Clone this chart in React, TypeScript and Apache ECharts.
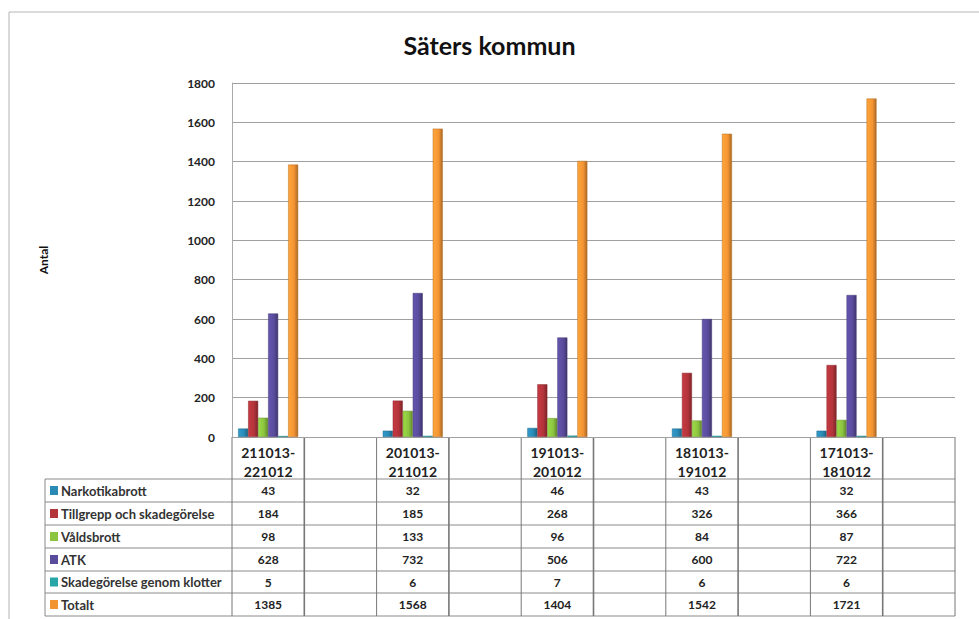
import React, { useEffect, useRef } from "react";
import * as echarts from "echarts";

// ---- data ----
const periods = ["211013-\n221012", "201013-\n211012", "191013-\n201012", "181013-\n191012", "171013-\n181012"];
const seriesNames = [
  "Narkotikabrott",
  "Tillgrepp och skadegörelse",
  "Våldsbrott",
  "ATK",
  "Skadegörelse genom klotter",
  "Totalt",
];
const narkotikabrott = [43, 32, 46, 43, 32];
const tillgrepp = [184, 185, 268, 326, 366];
const valdsbrott = [98, 133, 96, 84, 87];
const atk = [628, 732, 506, 600, 722];
const klotter = [5, 6, 7, 6, 6];
const totalt = [1385, 1568, 1404, 1542, 1721];
const yMin = 0;
const yMax = 1800;
const yStep = 200;

const seriesValues = [narkotikabrott, tillgrepp, valdsbrott, atk, klotter, totalt];
const colors = ["#2a8ab6", "#b3343b", "#8cc43f", "#5a4c9c", "#27a6a8", "#f39433"];

// ---- layout ----
const W = 979;
const H = 619;
const gridLeft = 232;
const gridRight = 24;
const gridTop = 83;
const gridBottomY = 437;
const rowLines = [479, 502, 525, 548, 571, 593, 616];
const legendLeft = 45;
const FONT = "Lato, 'Open Sans', sans-serif";

function shade(hex: string, f: number) {
  const n = parseInt(hex.slice(1), 16);
  const r = Math.round(((n >> 16) & 255) * f);
  const g = Math.round(((n >> 8) & 255) * f);
  const b = Math.round((n & 255) * f);
  return `rgb(${Math.min(r, 255)},${Math.min(g, 255)},${Math.min(b, 255)})`;
}

export default function App() {
  const ref = useRef<HTMLDivElement>(null);
  useEffect(() => {
    if (!ref.current) return;
    const chart = echarts.init(ref.current, undefined, { renderer: "svg" });
    const slots = periods.flatMap((p) => [p, ""]);
    const nSlots = slots.length;
    const gridWidth = W - gridLeft - gridRight;
    const colW = gridWidth / nSlots;

    const rowCenters = rowLines.slice(0, -1).map((y, i) => (y + rowLines[i + 1]) / 2);

    const rowAxes = seriesValues.map((vals, r) => ({
      type: "category",
      gridIndex: 0,
      position: "bottom",
      offset: rowCenters[r] - gridBottomY,
      data: slots,
      axisLine: { show: false },
      axisTick: { show: false },
      splitLine: { show: false },
      axisLabel: {
        interval: 0,
        margin: 0,
        verticalAlign: "middle",
        fontFamily: FONT,
        fontWeight: "bold",
        fontSize: 12,
        color: "#222",
        formatter: (_v: string, idx: number) => (idx % 2 === 0 ? String(vals[idx / 2]) : ""),
      },
    }));

    const graphics: any[] = [];
    graphics.push({
      type: "rect",
      shape: { x: 9, y: 12, width: W, height: H },
      style: { fill: "none", stroke: "#b5b5b5", lineWidth: 1 },
      silent: true,
    });
    // horizontal table lines
    rowLines.forEach((y) => {
      graphics.push({
        type: "line",
        shape: { x1: legendLeft, y1: y, x2: gridLeft + gridWidth, y2: y },
        style: { stroke: "#8a8a8a", lineWidth: 1 },
        silent: true,
      });
    });
    // vertical table lines
    for (let i = 0; i <= nSlots; i++) {
      const x = gridLeft + i * colW;
      graphics.push({
        type: "line",
        shape: { x1: x, y1: gridBottomY, x2: x, y2: rowLines[rowLines.length - 1] },
        style: { stroke: "#777", lineWidth: i % 2 === 1 ? 1.6 : 1 },
        silent: true,
      });
    }
    graphics.push({
      type: "line",
      shape: { x1: legendLeft, y1: rowLines[0], x2: legendLeft, y2: rowLines[rowLines.length - 1] },
      style: { stroke: "#8a8a8a", lineWidth: 1 },
      silent: true,
    });
    // legend keys in the table
    seriesNames.forEach((name, r) => {
      graphics.push({
        type: "rect",
        shape: { x: legendLeft + 5, y: rowCenters[r] - 4.5, width: 8, height: 9 },
        style: { fill: colors[r] },
        silent: true,
      });
      graphics.push({
        type: "text",
        x: legendLeft + 16,
        y: rowCenters[r],
        style: {
          text: name,
          fill: "#333",
          font: `bold 13px ${FONT}`,
          verticalAlign: "middle",
          align: "left",
        },
        silent: true,
      });
    });

    chart.setOption({
      animation: false,
      backgroundColor: "#fff",
      title: {
        text: "Säters kommun",
        left: "center",
        top: 27,
        textStyle: { fontFamily: FONT, fontWeight: "bold", fontSize: 25, color: "#111" },
      },
      grid: {
        left: gridLeft,
        right: gridRight,
        top: gridTop,
        bottom: H - gridBottomY,
        containLabel: false,
      },
      xAxis: [
        {
          type: "category",
          gridIndex: 0,
          position: "bottom",
          data: slots,
          axisLine: { show: false },
          axisTick: { show: false },
          axisLabel: {
            interval: 0,
            margin: 6,
            fontFamily: FONT,
            fontWeight: "bold",
            fontSize: 14,
            lineHeight: 19,
            color: "#222",
          },
        },
        ...rowAxes,
      ],
      yAxis: {
        type: "value",
        min: yMin,
        max: yMax,
        interval: yStep,
        name: "Antal",
        nameLocation: "middle",
        nameRotate: 90,
        nameGap: 183,
        nameTextStyle: { fontFamily: FONT, fontWeight: "bold", fontSize: 12, color: "#111" },
        axisLine: { show: true, lineStyle: { color: "#aaa" } },
        axisTick: { show: false },
        axisLabel: {
          margin: 17,
          fontFamily: FONT,
          fontWeight: "bold",
          fontSize: 12,
          color: "#222",
          formatter: (v: number) => String(v),
        },
        splitLine: { show: true, lineStyle: { color: "#a0a0a0", width: 1 } },
      },
      series: seriesValues.map((vals, s) => ({
        name: seriesNames[s],
        type: "bar",
        xAxisIndex: 0,
        barWidth: 10,
        barGap: "0%",
        data: vals.flatMap((v) => [v, null]),
        itemStyle: {
          color: new echarts.graphic.LinearGradient(0, 0, 1, 0, [
            { offset: 0, color: shade(colors[s], 1.12) },
            { offset: 0.6, color: colors[s] },
            { offset: 1, color: shade(colors[s], 0.7) },
          ]),
          borderColor: shade(colors[s], 0.75),
          borderWidth: 0.5,
        },
      })),
      graphic: graphics,
    });
    return () => chart.dispose();
  }, []);
  return <div ref={ref} style={{ position: "absolute", left: 0, top: 0, width: W, height: H }} />;
}
